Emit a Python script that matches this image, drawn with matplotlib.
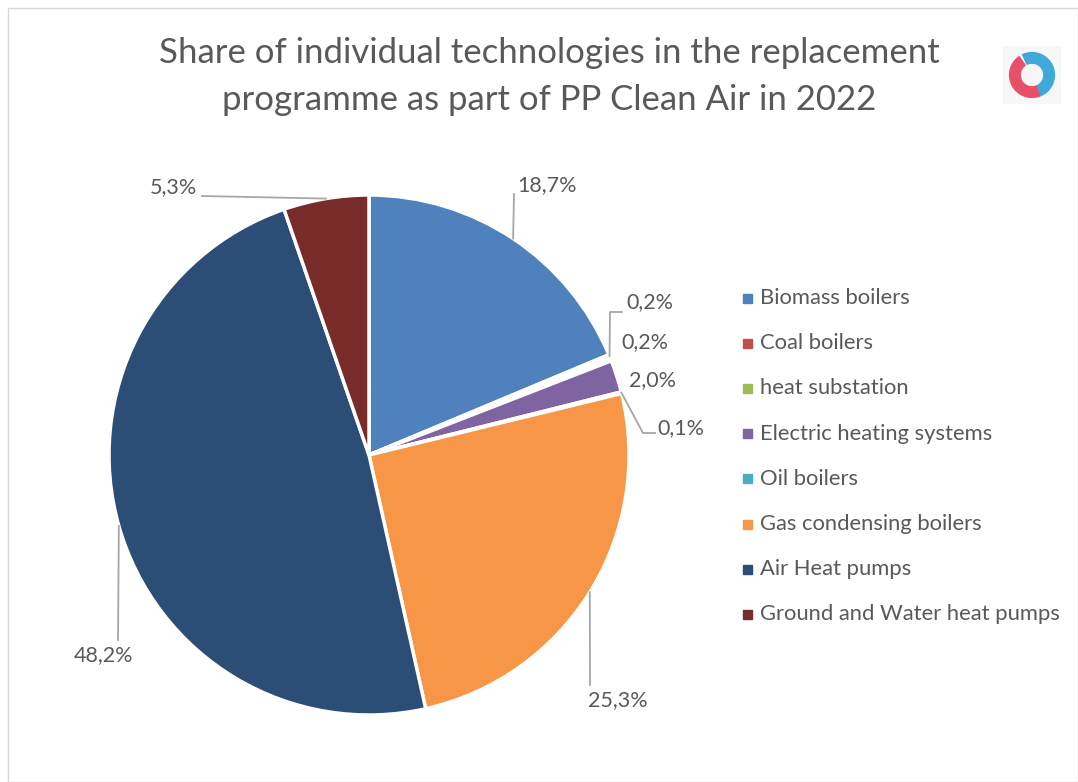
import numpy as np
import matplotlib.pyplot as plt
from matplotlib.patches import Rectangle, Wedge

plt.rcParams['font.family'] = ['Lato', 'DejaVu Sans']

# data
categories = ['Biomass boilers', 'Coal boilers', 'heat substation',
              'Electric heating systems', 'Oil boilers',
              'Gas condensing boilers', 'Air Heat pumps',
              'Ground and Water heat pumps']
shares = [18.7, 0.2, 0.2, 2.0, 0.1, 25.3, 48.2, 5.3]
colors = ['#4F81BD', '#C0504D', '#9BBB59', '#8064A2', '#4BACC6',
          '#F79646', '#2C4D75', '#772C2A']
title_lines = ['Share of individual technologies in the replacement',
               'programme as part of PP Clean Air in 2022']

TEXT = '#595959'
LINE = '#A6A6A6'

W, H = 1078, 782
fig = plt.figure(figsize=(W / 100, H / 100), dpi=100)

# pie centred at (369, 455) px, radius 260 px
cx, cy, r = 369, 455, 260
ax = fig.add_axes([(cx - r) / W, 1 - (cy + r) / H, 2 * r / W, 2 * r / H])
wedges, _ = ax.pie(shares, colors=colors, startangle=90, counterclock=False,
                   radius=1.0, wedgeprops=dict(edgecolor='white', linewidth=2.5))
ax.set_xlim(-1, 1)
ax.set_ylim(-1, 1)
ax.set_aspect('equal')
ax.axis('off')


def px(x, y):
    # pixel -> data units of the pie axes
    return (x - cx) / r, (cy - y) / r


# label placement (pixel), with leader elbow points
label_pos = [(517, 185), (626, 302), (621, 342), (629, 380),
             (657, 428), (588, 700), (74, 655), (150, 187)]
leaders = [[(514, 194)],
           [(610, 312), (622, 312)],
           None,
           None,
           [(643, 433), (655, 433)],
           [(590, 685)],
           [(118, 640)],
           [(202, 196)]]

for w, s, pos, lead in zip(wedges, shares, label_pos, leaders):
    mid = np.deg2rad((w.theta1 + w.theta2) / 2)
    lbl = ('%.1f%%' % s).replace('.', ',')
    tx, ty = px(*pos)
    ax.text(tx, ty, lbl, ha='left', va='center', fontsize=15.5, color=TEXT,
            clip_on=False)
    if lead:
        xs = [np.cos(mid)] + [px(*p)[0] for p in lead]
        ys = [np.sin(mid)] + [px(*p)[1] for p in lead]
        ax.plot(xs, ys, color=LINE, lw=1.3, clip_on=False)

# title, one text per line
for line, y in zip(title_lines, [53, 100]):
    fig.text(549 / W, 1 - y / H, line, ha='center', va='center',
             fontsize=25, color=TEXT)

# legend
for i, (name, c) in enumerate(zip(categories, colors)):
    y = 298 + i * 45.2
    fig.add_artist(Rectangle((743 / W, 1 - (y + 4.5) / H), 9 / W, 9 / H,
                             transform=fig.transFigure, color=c))
    fig.text(760 / W, 1 - y / H, name, ha='left', va='center',
             fontsize=15.8, color=TEXT)

# logo (rough)
lax = fig.add_axes([1003 / W, 1 - 104 / H, 58 / W, 58 / H])
lax.add_patch(Rectangle((-1.1, -1.1), 2.2, 2.2, color='#F7F7F7'))
lax.add_patch(Wedge((0, 0), 0.85, -70, 115, width=0.4, color='#3FA9DA'))
lax.add_patch(Wedge((0, 0), 0.85, 125, 290, width=0.4, color='#E8506A'))
lax.set_xlim(-1.1, 1.1)
lax.set_ylim(-1.1, 1.1)
lax.set_aspect('equal')
lax.axis('off')

# chart border
fig.add_artist(Rectangle((8 / W, 0), 1 - 8 / W, 1 - 8 / H,
                         transform=fig.transFigure, fill=False,
                         edgecolor='#D9D9D9', lw=1))

fig.savefig('out.png', dpi=100, facecolor='white')
